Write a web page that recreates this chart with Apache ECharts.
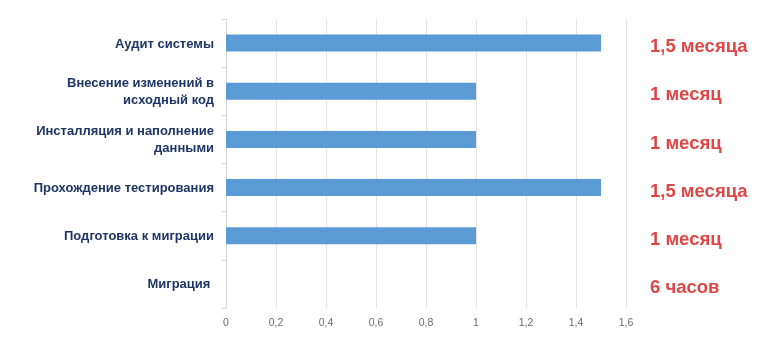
<!DOCTYPE html>
<html><head><meta charset="utf-8">
<script src="https://cdn.jsdelivr.net/npm/echarts@6/dist/echarts.min.js"></script>
<style>html,body{margin:0;padding:0;background:#fff}#c{width:778px;height:355px}</style>
</head><body><div id="c"></div>
<script>
const categories = ["Аудит системы","Внесение изменений в\nисходный код","Инсталляция и наполнение\nданными","Прохождение тестирования","Подготовка к миграции","Миграция "];
const values = [1.5, 1, 1, 1.5, 1, 0];
const durations = ["1,5 месяца","1 месяц","1 месяц","1,5 месяца","1 месяц","6 часов"];
const xTicks = {min: 0, max: 1.6, interval: 0.2};

const chart = echarts.init(document.getElementById('c'), null, {renderer: 'canvas'});
chart.setOption({
  animation: false,
  backgroundColor: '#fff',
  grid: {left: 226, right: 152, top: 19, bottom: 47, containLabel: false},
  xAxis: {
    type: 'value', min: xTicks.min, max: xTicks.max, interval: xTicks.interval,
    axisLine: {show: false}, axisTick: {show: false},
    splitLine: {show: true, lineStyle: {color: '#e3e3e3', width: 1}},
    axisLabel: {color: '#6b6b6b', fontSize: 10.5, fontFamily: 'Liberation Sans, Arial', margin: 10,
      formatter: v => String(Math.round(v*10)/10).replace('.', ',')}
  },
  yAxis: [{
    type: 'category', data: categories, inverse: true,
    axisLine: {show: true, lineStyle: {color: '#d9d9d9'}},
    axisTick: {show: true, length: 4, lineStyle: {color: '#d9d9d9'}},
    axisLabel: {color: '#1f3564', fontSize: 13, fontWeight: 'bold', fontFamily: 'Liberation Sans, Arial', margin: 12, align: 'right', lineHeight: 17,
      formatter: v => '{t|' + v + '}',
      rich: {t: {color: '#1f3564', fontSize: 13, fontWeight: 'bold', fontFamily: 'Liberation Sans, Arial', lineHeight: 17, align: 'right', padding: [2, 0, 0, 0]}}}
  },{
    type: 'category', data: durations, inverse: true, position: 'right',
    axisLine: {show: false}, axisTick: {show: false},
    axisLabel: {margin: 24, align: 'left',
      formatter: v => '{t|' + v + '}',
      rich: {t: {color: '#e04646', fontSize: 18.5, fontWeight: 'bold', fontFamily: 'Liberation Sans, Arial', padding: [8, 0, 0, 0]}}}
  }],
  series: [{
    type: 'bar', data: values, yAxisIndex: 0, barWidth: 17,
    itemStyle: {color: '#5b9bd5'}
  }]
});
</script></body></html>
